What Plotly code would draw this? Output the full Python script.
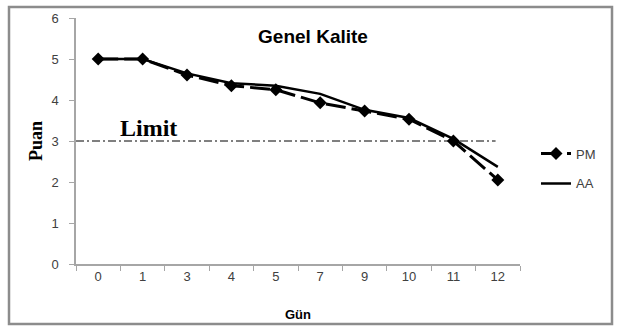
import plotly.graph_objects as go

days = ["0", "1", "3", "4", "5", "7", "9", "10", "11", "12"]
pm_values = [5.0, 5.0, 4.61, 4.35, 4.25, 3.93, 3.73, 3.53, 3.0, 2.05]
aa_values = [5.0, 5.0, 4.65, 4.41, 4.35, 4.15, 3.76, 3.56, 3.05, 2.37]
limit_value = 3.0
y_ticks = [0, 1, 2, 3, 4, 5, 6]

W, H = 617, 327
L, R, T, B = 76, 97, 18, 63

fig = go.Figure()
fig.add_trace(go.Scatter(
    x=days, y=pm_values, name="PM", mode="lines+markers",
    line=dict(color="black", width=3, dash="20px,6px"),
    marker=dict(symbol="diamond", size=10, color="black"),
    legendgroup="pm",
))
fig.add_trace(go.Scatter(
    x=days, y=aa_values, name="AA", mode="lines",
    line=dict(color="black", width=2.5),
    legendgroup="aa",
))
# limit line (dash-dot) spanning the plot
fig.add_shape(type="line", xref="x", yref="y",
              x0=-0.5, x1=8.95, y0=limit_value, y1=limit_value,
              line=dict(color="black", width=1, dash="8px,3px,2px,3px"))
fig.add_annotation(x=1.14, y=limit_value, xref="x", yref="y", text="<b>Limit</b>",
                   showarrow=False, yanchor="bottom", xanchor="center", yshift=-2,
                   font=dict(family="Liberation Serif", size=24, color="black"))

# outer frame
fig.add_shape(type="rect", xref="paper", yref="paper",
              x0=(9 - L) / (W - L - R), x1=(612 - L) / (W - L - R),
              y0=(H - B - 324) / (H - T - B), y1=(H - B - 7) / (H - T - B),
              line=dict(color="#8c8c8c", width=2.5), fillcolor="rgba(0,0,0,0)")

axis_font = dict(family="Liberation Sans", size=13, color="#404040")
fig.update_layout(
    width=W, height=H,
    margin=dict(l=L, r=R, t=T, b=B, autoexpand=False),
    paper_bgcolor="white", plot_bgcolor="white",
    title=dict(text="<b>Genel Kalite</b>", x=313 / W, xanchor="center",
               y=1 - 36 / H, yanchor="middle", yref="container",
               font=dict(family="Liberation Sans", size=19, color="black")),
    xaxis=dict(type="category", categoryorder="array", categoryarray=days,
               range=[-0.5, 9.5], showgrid=False, zeroline=False, automargin=False,
               showline=True, linecolor="#a6a6a6", linewidth=1.5,
               ticks="outside", tickson="boundaries", ticklen=5, tickcolor="#a6a6a6",
               tickfont=axis_font,
               title=dict(text="<b>Gün</b>", standoff=27,
                          font=dict(family="Liberation Sans", size=13, color="black"))),
    yaxis=dict(range=[0, 6], tickvals=y_ticks, showgrid=False, zeroline=False,
               automargin=False,
               showline=True, linecolor="#a6a6a6", linewidth=1.5,
               ticks="outside", ticklen=5, tickcolor="#a6a6a6",
               tickfont=axis_font, ticklabelstandoff=8,
               title=dict(text="<b>Puan</b>", standoff=4,
                          font=dict(family="Liberation Serif", size=18, color="black"))),
    legend=dict(x=1.036, xanchor="left", y=0.51, yanchor="top",
                font=dict(family="Liberation Sans", size=13, color="#404040"),
                tracegroupgap=10, bgcolor="rgba(0,0,0,0)"),
    showlegend=True,
)

fig.write_html("out.html")
